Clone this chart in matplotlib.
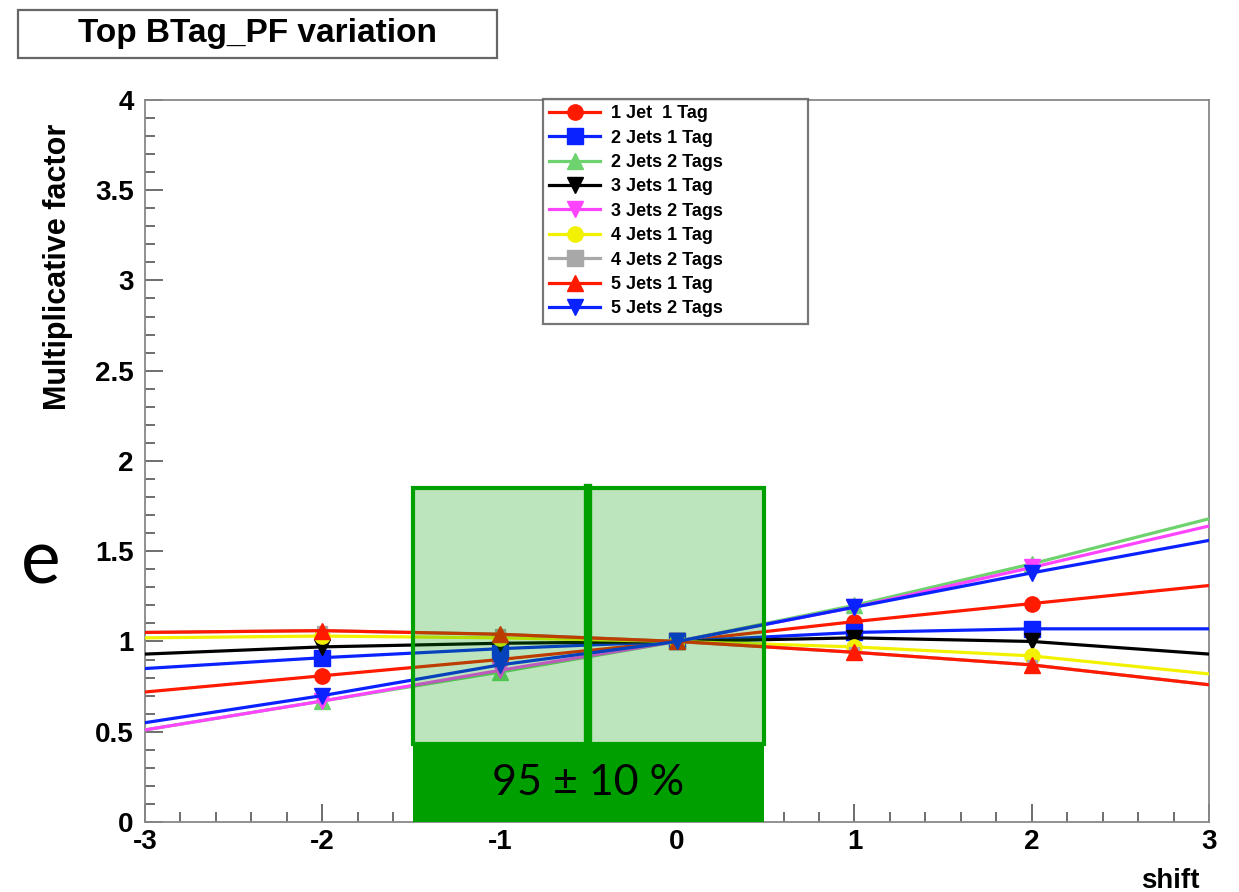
import matplotlib
matplotlib.use("Agg")
from matplotlib import pyplot as plt
from matplotlib.patches import Rectangle
from matplotlib.ticker import MultipleLocator, FormatStrFormatter

plt.rcParams["font.family"] = ["Liberation Sans", "DejaVu Sans"]
plt.rcParams["axes.unicode_minus"] = False

# shift values; markers only on the inner points
shift = [-3, -2, -1, 0, 1, 2, 3]

labels = ["1 Jet  1 Tag", "2 Jets 1 Tag", "2 Jets 2 Tags", "3 Jets 1 Tag", "3 Jets 2 Tags",
          "4 Jets 1 Tag", "4 Jets 2 Tags", "5 Jets 1 Tag", "5 Jets 2 Tags"]
j1t1 = [0.72, 0.81, 0.90, 1.00, 1.11, 1.21, 1.31]
j2t1 = [0.85, 0.91, 0.96, 1.00, 1.05, 1.07, 1.07]
j2t2 = [0.51, 0.67, 0.83, 1.00, 1.20, 1.43, 1.68]
j3t1 = [0.93, 0.97, 0.99, 1.00, 1.02, 1.00, 0.93]
j3t2 = [0.51, 0.67, 0.84, 1.00, 1.19, 1.41, 1.64]
j4t1 = [1.02, 1.03, 1.02, 1.00, 0.97, 0.92, 0.82]
j4t2 = [1.05, 1.06, 1.04, 1.00, 0.94, 0.87, 0.76]   # hidden under 5 Jets 1 Tag
j5t1 = [1.05, 1.06, 1.04, 1.00, 0.94, 0.87, 0.76]
j5t2 = [0.55, 0.70, 0.87, 1.00, 1.19, 1.38, 1.56]

series = [j1t1, j2t1, j2t2, j3t1, j3t2, j4t1, j4t2, j5t1, j5t2]
colors = ["#ff1a00", "#0a22ff", "#6ed36e", "#000000", "#ff44ff",
          "#f2f200", "#a8a8a8", "#ff1a00", "#0a22ff"]
markers = ["o", "s", "^", "v", "v", "o", "s", "^", "v"]
msizes = [11, 11, 11, 11, 11, 11, 7, 11, 11]

band_x = [-1.49, 0.49]   # green box limits
band_mid = -0.5
band_top = 1.85
label_top = 0.43


def main():
    fig = plt.figure(figsize=(12.39, 8.92), dpi=100)
    ax = fig.add_axes([0.117, 0.0785, 0.859, 0.8095])

    for lbl, y, c, m, ms in zip(labels, series, colors, markers, msizes):
        ax.plot(shift, y, color=c, lw=2.3, marker=m, markersize=ms,
                markevery=[1, 2, 3, 4, 5], label=lbl, zorder=3)

    # green overlay box from the slide
    ax.add_patch(Rectangle((band_x[0], label_top), band_x[1] - band_x[0], band_top - label_top,
                           facecolor=(0, 0.62, 0), alpha=0.26, edgecolor="none", zorder=4))
    ax.add_patch(Rectangle((band_x[0], label_top), band_x[1] - band_x[0], band_top - label_top,
                           facecolor="none", edgecolor="#00a000", lw=3, zorder=5))
    ax.plot([band_mid, band_mid], [label_top, band_top], color="#00a000", lw=6, zorder=5)
    ax.add_patch(Rectangle((band_x[0], 0), band_x[1] - band_x[0], label_top,
                           facecolor="#009f00", edgecolor="none", zorder=6, clip_on=False))
    ax.text(sum(band_x) / 2, label_top / 2, "95 ± 10 %", family=["Lato", "DejaVu Sans"],
            fontsize=31, color="black", ha="center", va="center", zorder=7)

    ax.set_xlim(-3, 3)
    ax.set_ylim(0, 4)
    ax.xaxis.set_major_locator(MultipleLocator(1))
    ax.xaxis.set_minor_locator(MultipleLocator(0.2))
    ax.yaxis.set_major_locator(MultipleLocator(0.5))
    ax.yaxis.set_minor_locator(MultipleLocator(0.1))
    ax.yaxis.set_major_formatter(FormatStrFormatter("%g"))
    ax.xaxis.set_major_formatter(FormatStrFormatter("%g"))
    ax.tick_params(which="both", direction="in", top=False, right=False, color="#555555")
    ax.tick_params(which="major", length=13, width=1.2, labelsize=20)
    ax.tick_params(axis="y", which="major", pad=8)
    ax.tick_params(axis="x", which="major", pad=5)
    ax.tick_params(which="minor", length=7, width=1.2)
    for t in ax.get_xticklabels() + ax.get_yticklabels():
        t.set_fontweight("bold")
    for s in ax.spines.values():
        s.set_color("#888888")
        s.set_linewidth(1.3)

    ax.set_ylabel("Multiplicative factor", fontsize=22, fontweight="bold")
    ax.yaxis.set_label_coords(-0.068, 0.769)
    fig.text(0.968, -0.002, "shift", fontsize=20, fontweight="bold", ha="right", va="bottom")

    leg = ax.legend(loc="upper left", bbox_to_anchor=(0.374, 0.99, 0.249, 0.0115), mode="expand",
                    prop={"weight": "bold", "size": 13}, frameon=True, fancybox=False,
                    shadow=False, handlelength=2.8, labelspacing=0.41, borderpad=0.35,
                    handletextpad=0.6, markerscale=1.0, borderaxespad=0)
    for h in leg.legend_handles:
        h.set_markersize(11)
    leg.get_frame().set_edgecolor("#555555")
    leg.get_frame().set_linewidth(1.6)
    leg.set_zorder(10)

    # title box
    fig.text(0.208, 0.963, "Top BTag_PF variation", fontsize=24, fontweight="bold",
             ha="center", va="center")
    fig.patches.append(Rectangle((0.0145, 0.935), 0.387, 0.054, transform=fig.transFigure,
                                 facecolor="white", edgecolor="#666666", lw=1.6, zorder=-1))

    # slide fragment on the left
    fig.text(0.033, 0.37, "e", family=["Lato", "DejaVu Sans"], fontsize=54,
             ha="center", va="center")

    fig.savefig("out.png", dpi=100)


if __name__ == "__main__":
    main()
